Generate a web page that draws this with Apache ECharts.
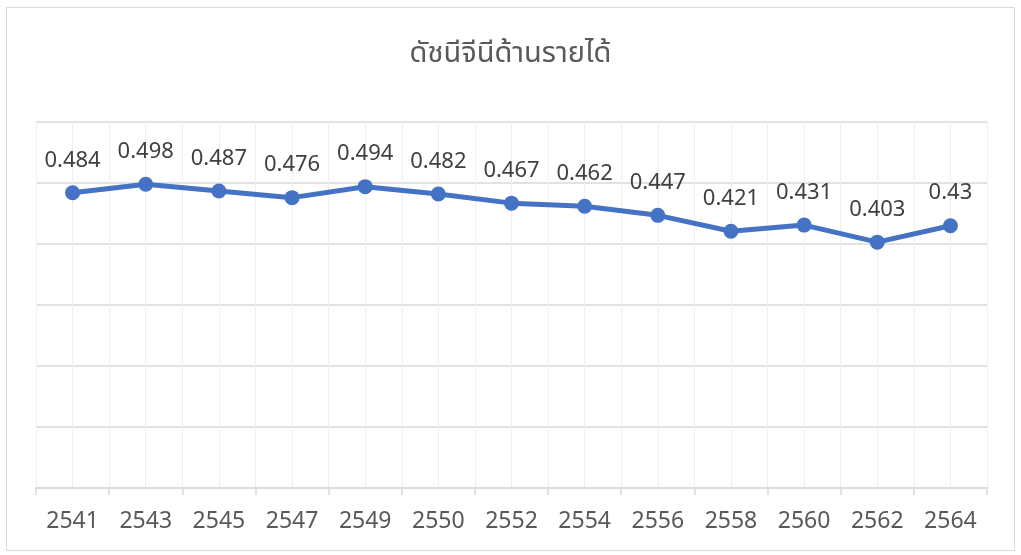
<!DOCTYPE html>
<html>
<head>
<meta charset="utf-8">
<script src="https://cdn.jsdelivr.net/npm/echarts@6/dist/echarts.min.js"></script>
<style>
  html, body { margin: 0; padding: 0; background: #fff; }
  #chart { width: 1021px; height: 555px; }
</style>
</head>
<body>
<div id="chart"></div>
<script>
// ข้อมูล
const years = ['2541', '2543', '2545', '2547', '2549', '2550', '2552', '2554', '2556', '2558', '2560', '2562', '2564']
const gini  = [0.484, 0.498, 0.487, 0.476, 0.494, 0.482, 0.467, 0.462, 0.447, 0.421, 0.431, 0.403, 0.43]

const FONT = '"Noto Sans", "Noto Sans Thai", "DejaVu Sans", sans-serif'

const chart = echarts.init(document.getElementById('chart'), null, { renderer: 'canvas' })

chart.setOption({
  animation: false,
  backgroundColor: '#fff',
  title: {
    text: 'ดัชนีจีนีด้านรายได้',
    left: 'center',
    top: 34,
    textStyle: { fontFamily: FONT, fontSize: 29, fontWeight: 'normal', color: '#595959' },
  },
  graphic: [
    {
      type: 'rect',
      shape: { x: 6.5, y: 7.5, width: 1008, height: 543 },
      style: { fill: 'none', stroke: '#d9d9d9', lineWidth: 1 },
      silent: true,
      z: -10,
    },
  ],
  grid: { left: 36, right: 34, top: 122, bottom: 67 },
  xAxis: [
    {
      type: 'category',
      data: years,
      boundaryGap: true,
      axisLine: { lineStyle: { color: '#d9d9d9', width: 1.5 } },
      axisTick: { show: true, length: 7, lineStyle: { color: '#d9d9d9', width: 1.5 } },
      axisLabel: { fontFamily: FONT, fontSize: 23, color: '#595959', margin: 22 },
      splitLine: { show: false },
    },
    {
      // ซ่อนไว้ ใช้วาดเส้นกริดแนวตั้ง (หลัก + รอง)
      type: 'value',
      position: 'top',
      min: 0,
      max: years.length,
      interval: 0.5,
      axisLine: { show: false },
      axisTick: { show: false },
      axisLabel: { show: false },
      splitLine: { show: true, lineStyle: { color: '#efefef', width: 1 } },
    },
  ],
  yAxis: {
    type: 'value',
    min: 0,
    max: 0.6,
    interval: 0.1,
    axisLine: { show: false },
    axisTick: { show: false },
    axisLabel: { show: false },
    splitLine: { lineStyle: { color: '#d9d9d9', width: 1.5 } },
  },
  series: [
    {
      name: 'ดัชนีจีนี',
      type: 'line',
      xAxisIndex: 0,
      data: gini,
      symbol: 'circle',
      symbolSize: 15,
      itemStyle: { color: '#4472C4' },
      lineStyle: { color: '#4472C4', width: 5 },
      label: {
        show: true,
        position: 'top',
        distance: 14,
        fontFamily: FONT,
        fontSize: 22,
        color: '#404040',
      },
    },
  ],
})
</script>
</body>
</html>
